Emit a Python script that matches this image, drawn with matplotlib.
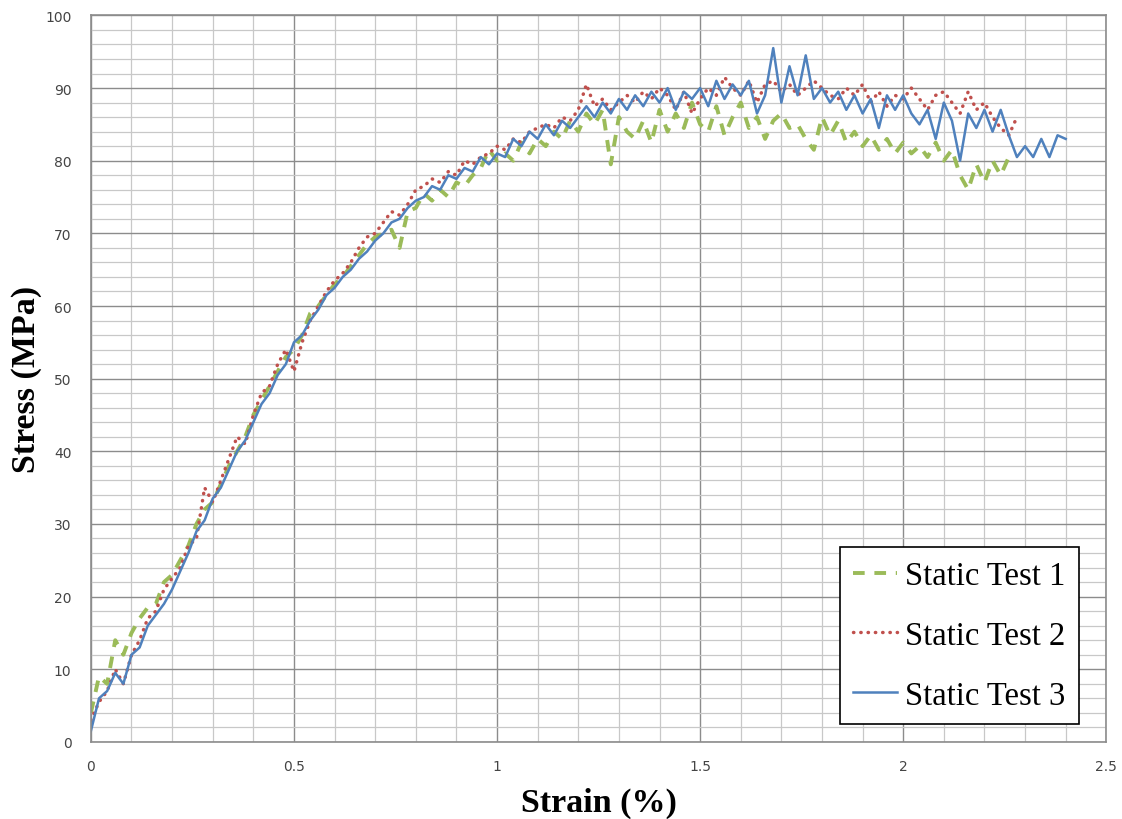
import numpy as np
import matplotlib.pyplot as plt
from matplotlib.ticker import MultipleLocator

strain_step = 0.02

stress_1 = [
    4, 9, 8, 14, 12, 15, 17, 18.5, 19, 22,
    23, 25, 27, 30, 32, 33, 35.5, 38, 40, 42,
    45, 47, 49, 51, 53, 54, 56, 59, 60, 61.5,
    63, 64, 65.5, 67, 68.5, 69.5, 70, 70.5, 68, 73,
    73.5, 75.5, 74.5, 76, 75, 77, 76.5, 78, 79, 81.5,
    80, 81, 80, 82.5, 81, 83, 82, 84, 83, 85.5,
    84, 86.5, 85, 87, 79.5, 86, 84, 83, 85.5, 82.5,
    87, 84, 86.5, 84.5, 88, 85, 84, 87.5, 83.5, 86,
    88, 84.5, 86, 83, 85.5, 86.5, 84.5, 85, 83, 81.5,
    86, 83.5, 85.5, 82.5, 84, 82, 83.5, 81.5, 83, 81,
    82.5, 81, 82, 80.5, 82.5, 80, 81.5, 78, 76, 79.5,
    77, 80, 78, 80.5,
]

stress_2 = [
    3, 5.5, 7, 10, 8, 12, 14, 17, 18, 21,
    22.5, 24, 27, 28, 35, 33, 36, 39, 42, 41,
    45, 48, 49, 52, 54, 51, 55, 58, 60, 62,
    63.5, 64.5, 66, 68, 69.5, 70, 71.5, 73, 72.5, 74,
    76, 76.5, 77.5, 77, 78.5, 78, 80, 79.5, 80.5, 81,
    82, 81.5, 83, 82.5, 84, 84.5, 85, 84.5, 86, 85.5,
    87, 90.5, 87.5, 88.5, 87, 88, 89, 88, 89.5, 88.5,
    90, 89, 87, 89.5, 86.5, 88.5, 90, 89, 91.5, 90,
    89, 91, 88, 90.5, 91, 89.5, 90.5, 89, 90, 91,
    90, 89, 88.5, 90, 89, 90.5, 88, 89.5, 87.5, 89,
    88.5, 90, 88.5, 87, 89, 89.5, 88, 86.5, 89.5, 87,
    88, 86, 84.5, 83.5, 86,
]

stress_3 = [
    1.5, 6, 7, 9.5, 8, 12, 13, 16, 17.5, 19,
    21, 23.5, 26, 29, 30.5, 33.5, 35, 37.5, 40, 41.5,
    44, 46.5, 48, 50.5, 52, 55, 56, 58, 59.5, 61.5,
    62.5, 64, 65, 66.5, 67.5, 69, 70, 71.5, 72, 73.5,
    74.5, 75, 76.5, 76, 78, 77.5, 79, 78.5, 80.5, 79.5,
    81, 80.5, 83, 82, 84, 83, 85, 83.5, 85.5, 84.5,
    86, 87.5, 86, 88, 86.5, 88.5, 87, 89, 87.5, 89.5,
    88, 90, 87, 89.5, 88.5, 90, 87.5, 91, 88.5, 90.5,
    89, 91, 86.5, 89, 95.5, 88, 93, 89, 94.5, 88.5,
    90, 88, 89.5, 87, 89, 86.5, 88.5, 84.5, 89, 87,
    89, 86.5, 85, 87, 83, 88, 85.5, 80, 86.5, 84.5,
    87, 84, 87, 83.5, 80.5, 82, 80.5, 83, 80.5, 83.5,
    83,
]

labels = ["Static Test 1", "Static Test 2", "Static Test 3"]
colors = ["#9BBB59", "#C0504D", "#4F81BD"]

x1 = np.arange(len(stress_1)) * strain_step
x2 = np.arange(len(stress_2)) * strain_step
x3 = np.arange(len(stress_3)) * strain_step

fig = plt.figure(figsize=(11.22, 8.2), dpi=100)
ax = fig.add_axes([0.081, 0.094, 0.905, 0.886])

ax.plot(x1, stress_1, color=colors[0], lw=2.8, dashes=(3.0, 2.5), label=labels[0])
ax.plot(x2, stress_2, color=colors[1], lw=2.5, linestyle=(0, (0.1, 2.0)),
        dash_capstyle="round", label=labels[1])
ax.plot(x3, stress_3, color=colors[2], lw=1.8, label=labels[2])

ax.set_xlim(0, 2.5)
ax.set_ylim(0, 100)
ax.xaxis.set_major_locator(MultipleLocator(0.5))
ax.xaxis.set_minor_locator(MultipleLocator(0.1))
ax.yaxis.set_major_locator(MultipleLocator(10))
ax.yaxis.set_minor_locator(MultipleLocator(2))
ax.xaxis.set_major_formatter(plt.FuncFormatter(lambda v, p: f"{v:g}"))

ax.grid(which="minor", color="#c8c8c8", lw=0.9)
ax.grid(which="major", color="#8c8c8c", lw=1.0)
ax.set_axisbelow(True)
for s in ax.spines.values():
    s.set_color("#8c8c8c")
    s.set_linewidth(1.2)

ax.tick_params(which="both", length=0, labelsize=10, labelcolor="#444444")
ax.tick_params(axis="x", pad=12)
ax.tick_params(axis="y", pad=14)

ax.set_xlabel("Strain (%)", family="Liberation Serif", fontweight="bold",
              fontsize=24.5, labelpad=10)
ax.set_ylabel("Stress (MPa)", family="Liberation Serif", fontweight="bold",
              fontsize=24.5, labelpad=2)

leg = ax.legend(loc="lower right", bbox_to_anchor=(0.973, 0.025),
                prop={"family": "Liberation Serif", "size": 23.5},
                fancybox=False, framealpha=1, edgecolor="black",
                handlelength=1.35, handletextpad=0.25, labelspacing=0.9,
                borderpad=0.4, borderaxespad=0)
leg.get_frame().set_linewidth(1.2)

fig.savefig("out.png", dpi=100)
